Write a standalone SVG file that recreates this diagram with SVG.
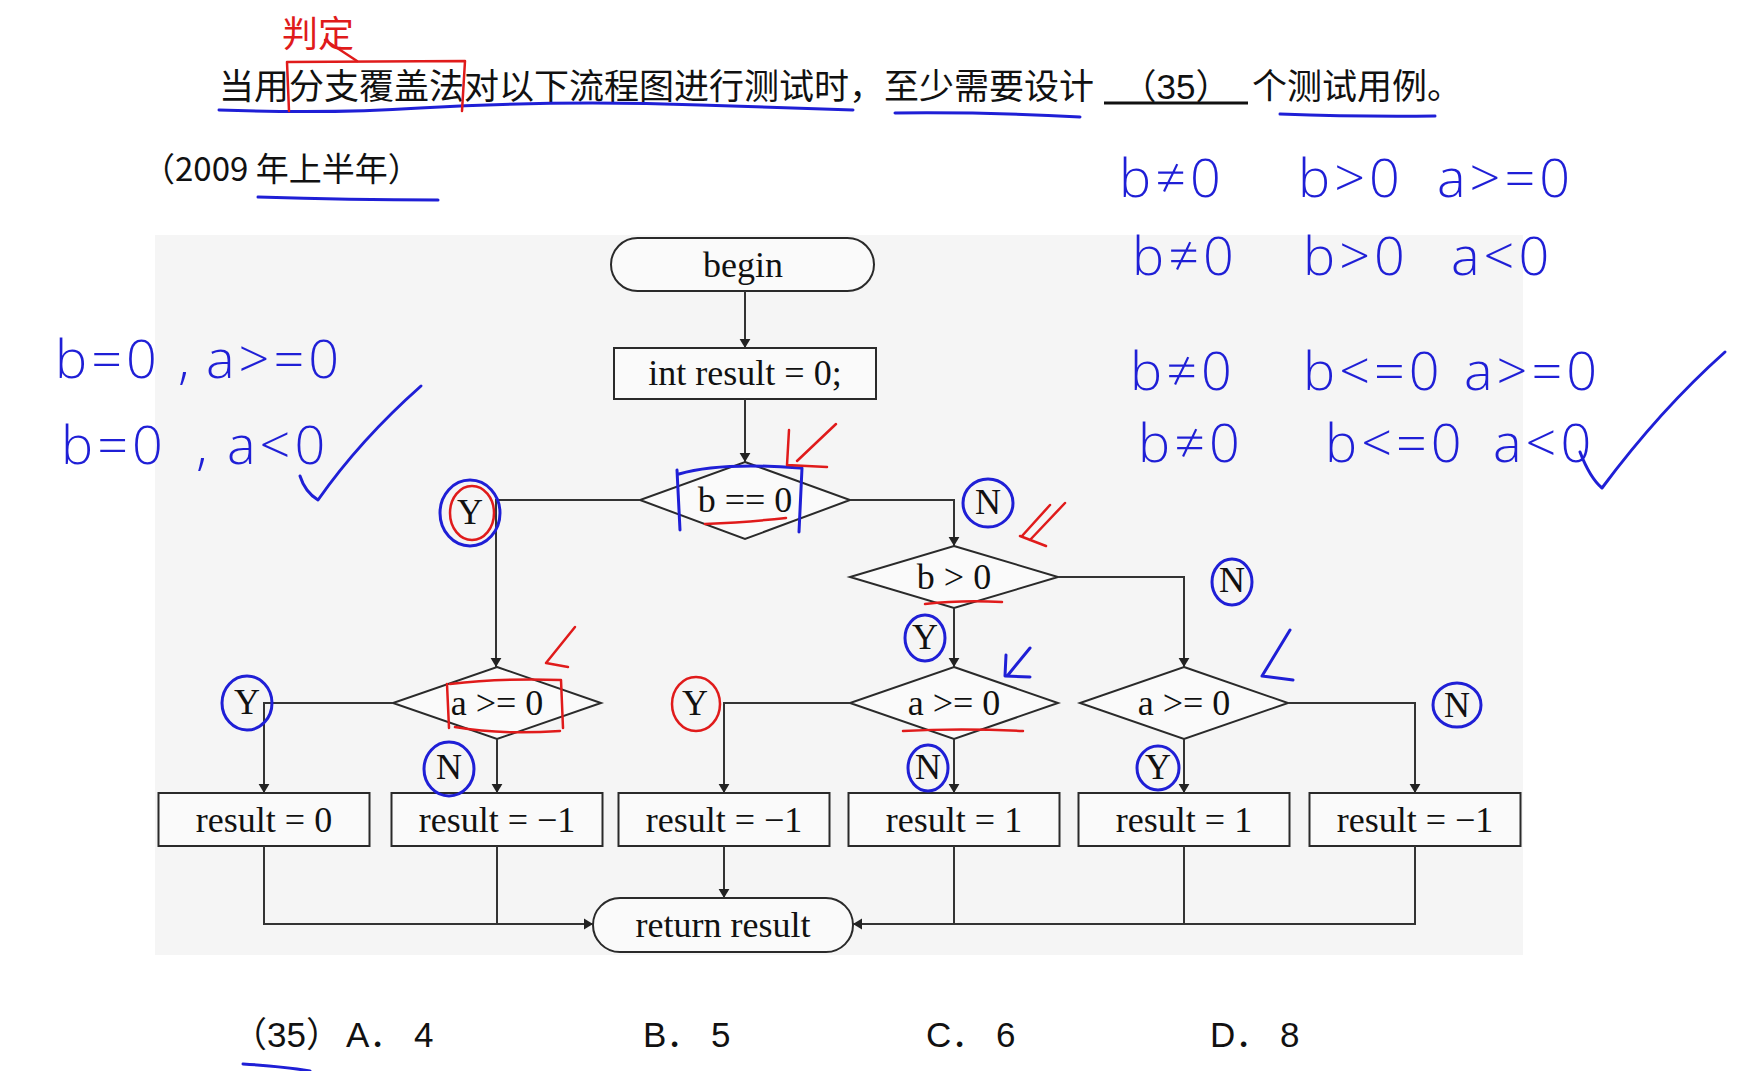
<svg xmlns="http://www.w3.org/2000/svg" width="1737" height="1071" viewBox="0 0 1737 1071">
<defs>
<marker id="ah" viewBox="0 0 10 20" refX="10" refY="10" markerWidth="9" markerHeight="18" markerUnits="userSpaceOnUse" orient="auto">
<path d="M0,4 L10,10 L0,16 z" fill="#222"/>
</marker>
</defs>
<style>
.cn{font-family:"Noto Sans CJK SC","Noto Sans",sans-serif;font-size:35px;fill:#111}
.opt{font-family:"Liberation Sans","Noto Sans CJK SC",sans-serif;font-size:35px;fill:#111}
.fc{font-family:"Liberation Serif",serif;font-size:36px;fill:#111;text-anchor:middle}
.shape{fill:#fafafa;stroke:#2a2a2a;stroke-width:2}
.conn{fill:none;stroke:#333;stroke-width:2}
.hw{font-family:"Open Sans","DejaVu Sans",sans-serif;font-weight:300;font-size:54px;letter-spacing:4px;fill:#1f1fd6}
.blue{fill:none;stroke:#1f1fd6;stroke-width:3;stroke-linecap:round;stroke-linejoin:round}
.red{fill:none;stroke:#e01b1b;stroke-width:2.5;stroke-linecap:round;stroke-linejoin:round}
</style>
<rect width="1737" height="1071" fill="#ffffff"/>
<rect x="155" y="235" width="1368" height="720" fill="#f5f5f5"/>

<!-- question text -->
<g id="question">
<text class="cn" x="219" y="99">当用分支覆盖法对以下流程图进行测试时，至少需要设计</text>
<text class="opt" x="1176" y="99" text-anchor="middle">（35）</text>
<line x1="1104" y1="103" x2="1248" y2="103" stroke="#111" stroke-width="3"/>
<text class="cn" x="1252" y="99">个测试用例。</text>
<text class="cn" x="142" y="181" style="font-size:33px">（2009 年上半年）</text>
</g>

<!-- flowchart nodes -->
<g id="n-begin">
<rect class="shape" x="611" y="238" width="263" height="53" rx="26.5"/>
<text class="fc" x="743" y="277">begin</text>
</g>
<g id="n-init">
<rect class="shape" x="614" y="348" width="262" height="51"/>
<text class="fc" x="745" y="385">int result = 0;</text>
</g>
<g id="n-b-eq-0">
<polygon class="shape" points="745,462 850,500 745,539 640,500"/>
<text class="fc" x="745" y="512">b == 0</text>
</g>
<g id="n-b-gt-0">
<polygon class="shape" points="954,546 1058,577 954,608 850,577"/>
<text class="fc" x="954" y="589">b &gt; 0</text>
</g>
<g id="n-a1">
<polygon class="shape" points="497,667 601,703 497,739 393,703"/>
<text class="fc" x="497" y="715">a &gt;= 0</text>
</g>
<g id="n-a2">
<polygon class="shape" points="954,667 1058,703 954,739 850,703"/>
<text class="fc" x="954" y="715">a &gt;= 0</text>
</g>
<g id="n-a3">
<polygon class="shape" points="1184,667 1288,703 1184,739 1080,703"/>
<text class="fc" x="1184" y="715">a &gt;= 0</text>
</g>
<g id="n-r1">
<rect class="shape" x="158.5" y="793" width="211" height="53"/>
<text class="fc" x="264" y="832">result = 0</text>
</g>
<g id="n-r2">
<rect class="shape" x="391.5" y="793" width="211" height="53"/>
<text class="fc" x="497" y="832">result = −1</text>
</g>
<g id="n-r3">
<rect class="shape" x="618.5" y="793" width="211" height="53"/>
<text class="fc" x="724" y="832">result = −1</text>
</g>
<g id="n-r4">
<rect class="shape" x="848.5" y="793" width="211" height="53"/>
<text class="fc" x="954" y="832">result = 1</text>
</g>
<g id="n-r5">
<rect class="shape" x="1078.5" y="793" width="211" height="53"/>
<text class="fc" x="1184" y="832">result = 1</text>
</g>
<g id="n-r6">
<rect class="shape" x="1309.5" y="793" width="211" height="53"/>
<text class="fc" x="1415" y="832">result = −1</text>
</g>
<g id="n-return">
<rect class="shape" x="593" y="898" width="260" height="54" rx="27"/>
<text class="fc" x="723" y="937">return result</text>
</g>

<!-- connectors -->
<g id="connectors">
<path class="conn" d="M745,291 V348" marker-end="url(#ah)"/>
<path class="conn" d="M745,399 V462" marker-end="url(#ah)"/>
<path class="conn" d="M640,500 H496 V667" marker-end="url(#ah)"/>
<path class="conn" d="M850,500 H954 V546" marker-end="url(#ah)"/>
<path class="conn" d="M954,608 V667" marker-end="url(#ah)"/>
<path class="conn" d="M1058,577 H1184 V667" marker-end="url(#ah)"/>
<path class="conn" d="M393,703 H264 V793" marker-end="url(#ah)"/>
<path class="conn" d="M497,739 V793" marker-end="url(#ah)"/>
<path class="conn" d="M850,703 H724 V793" marker-end="url(#ah)"/>
<path class="conn" d="M954,739 V793" marker-end="url(#ah)"/>
<path class="conn" d="M1184,739 V793" marker-end="url(#ah)"/>
<path class="conn" d="M1288,703 H1415 V793" marker-end="url(#ah)"/>
<path class="conn" d="M724,846 V898" marker-end="url(#ah)"/>
<path class="conn" d="M264,846 V924 H593" marker-end="url(#ah)"/>
<path class="conn" d="M497,846 V924"/>
<path class="conn" d="M1415,846 V924 H853" marker-end="url(#ah)"/>
<path class="conn" d="M954,846 V924"/>
<path class="conn" d="M1184,846 V924"/>
</g>

<!-- branch labels -->
<g id="labels">
<text class="fc" x="470" y="524">Y</text>
<text class="fc" x="988" y="514">N</text>
<text class="fc" x="1232" y="592">N</text>
<text class="fc" x="925" y="649">Y</text>
<text class="fc" x="247" y="714">Y</text>
<text class="fc" x="449" y="779">N</text>
<text class="fc" x="695" y="715">Y</text>
<text class="fc" x="928" y="779">N</text>
<text class="fc" x="1158" y="779">Y</text>
<text class="fc" x="1457" y="717">N</text>
</g>

<!-- options -->
<g id="options">
<text class="opt" x="232" y="1047">（35）</text>
<text class="opt" x="346" y="1047">A． 4</text>
<text class="opt" x="643" y="1047">B． 5</text>
<text class="opt" x="926" y="1047">C． 6</text>
<text class="opt" x="1210" y="1047">D． 8</text>
</g>

<!-- handwritten annotations -->
<g id="annotations">
<path class="blue" d="M219,110 Q330,114 420,108 Q560,100 700,105 Q790,108 853,110"/>
<path class="blue" d="M895,113 Q990,112 1080,117"/>
<path class="blue" d="M1280,114 Q1360,117 1435,116"/>
<path class="blue" d="M258,197 Q350,200 438,200"/>
<path class="blue" d="M243,1064 Q280,1066 310,1071"/>
<path class="red" d="M289,111 L287,62 L465,61 L462,111"/>
<text x="282" y="47" style="font-family:'Noto Sans CJK SC',sans-serif;font-size:36px;fill:#e01b1b">判定</text>
<path class="red" d="M325,40 L357,61"/>

<text class="hw" x="55" y="378">b=0</text>
<text class="hw" x="178" y="378">,</text>
<text class="hw" x="206" y="378">a&gt;=0</text>
<text class="hw" x="61" y="464">b=0</text>
<text class="hw" x="196" y="464">,</text>
<text class="hw" x="227" y="464">a&lt;0</text>
<path class="blue" d="M300,476 Q305,492 318,500 Q360,440 421,386"/>

<text class="hw" x="1119" y="197">b≠0</text>
<text class="hw" x="1298" y="197">b&gt;0</text>
<text class="hw" x="1437" y="197">a&gt;=0</text>
<text class="hw" x="1132" y="275">b≠0</text>
<text class="hw" x="1303" y="275">b&gt;0</text>
<text class="hw" x="1451" y="275">a&lt;0</text>
<text class="hw" x="1130" y="390">b≠0</text>
<text class="hw" x="1303" y="390">b&lt;=0</text>
<text class="hw" x="1464" y="390">a&gt;=0</text>
<text class="hw" x="1138" y="462">b≠0</text>
<text class="hw" x="1325" y="462">b&lt;=0</text>
<text class="hw" x="1493" y="462">a&lt;0</text>
<path class="blue" d="M1580,452 Q1590,478 1602,488 Q1660,410 1725,352"/>

<!-- circles around Y / N -->
<ellipse class="blue" cx="470" cy="513" rx="30" ry="33"/>
<ellipse class="red" cx="472" cy="513" rx="22" ry="27"/>
<ellipse class="blue" cx="988" cy="503" rx="25" ry="24"/>
<ellipse class="blue" cx="1232" cy="582" rx="20" ry="23"/>
<ellipse class="blue" cx="925" cy="638" rx="20" ry="23"/>
<ellipse class="blue" cx="247" cy="703" rx="25" ry="27"/>
<ellipse class="blue" cx="449" cy="769" rx="25" ry="27"/>
<ellipse class="red" cx="696" cy="704" rx="24" ry="27"/>
<ellipse class="blue" cx="928" cy="768" rx="20" ry="23"/>
<ellipse class="blue" cx="1158" cy="768" rx="21" ry="22"/>
<ellipse class="blue" cx="1457" cy="705" rx="24" ry="22"/>

<!-- b == 0 marks -->
<path class="blue" d="M677,470 L680,530 M679,474 Q720,462 800,468 M802,468 L799,532"/>
<path class="red" d="M705,524 Q750,522 786,518"/>
<path class="red" d="M836,424 L797,461 M789,430 L787,465 L827,467"/>
<!-- b > 0 marks -->
<path class="red" d="M1065,503 L1030,540 M1050,505 L1022,536 M1020,536 L1046,546"/>
<path class="red" d="M925,604 Q960,600 1002,602"/>
<!-- middle a >= 0 marks -->
<path class="blue" d="M1030,648 L1008,675 M1006,655 L1005,676 L1030,677"/>
<path class="red" d="M903,731 Q960,728 1023,731"/>
<!-- right a >= 0 marks -->
<path class="blue" d="M1290,630 L1262,676 M1262,676 L1293,680"/>
<!-- left a >= 0 marks -->
<path class="red" d="M575,627 L546,663 M546,663 L568,667"/>
<path class="red" d="M447,684 L449,728 M450,684 Q500,678 561,680 L563,728 M455,727 Q500,735 560,731"/>
</g>
</svg>
